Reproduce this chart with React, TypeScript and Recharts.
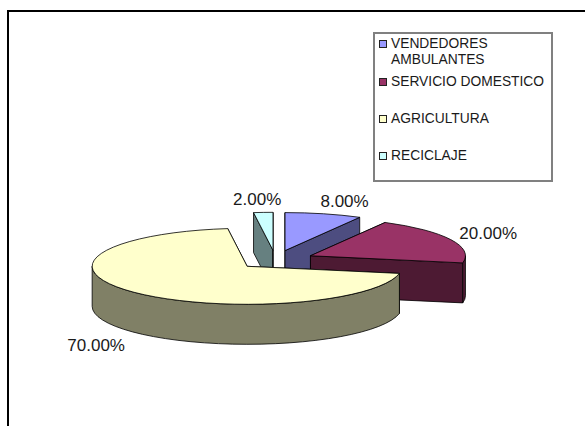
import React from "react";
import { PieChart, Pie, Legend } from "recharts";

const legendCategories = ["VENDEDORES AMBULANTES", "SERVICIO DOMESTICO", "AGRICULTURA", "RECICLAJE"];
const legendValues = [8, 20, 70, 2];
const topColors = ["#9999FF", "#993366", "#FFFFCC", "#CCFFFF"];
const sideColors = ["#4D4D80", "#4D1A33", "#808066", "#668080"];
// Draw order back to front: the recycling slice sits behind agriculture.
const drawOrder = [3, 0, 1, 2];

const labelOffsets: Record<string, [number, number]> = {
  "VENDEDORES AMBULANTES": [21, -12.5],
  "SERVICIO DOMESTICO": [37.5, -6.5],
  AGRICULTURA: [-38, 53.5],
  RECICLAJE: [-6, -12.5],
};

const pieData = drawOrder.map((i) => ({
  name: legendCategories[i],
  value: legendValues[i],
  top: topColors[i],
  side: sideColors[i],
}));

const W = 585;
const H = 426;
const CX = 275.4;
const CY = 259.8;
const RX = 155;
const SQUASH = 38 / 155;
const DEPTH = 40;
const EXPLODE = 0.25;
const RAD = Math.PI / 180;

const pt = (ax: number, ay: number, r: number, deg: number, dy = 0) => {
  const t = (90 - deg) * RAD;
  return { x: ax + r * Math.sin(t), y: ay - r * SQUASH * Math.cos(t) + dy };
};
const apex = (cx: number, cy: number, r: number, mid: number) => pt(cx, cy, r * EXPLODE, mid);
const f = (n: number) => n.toFixed(2);

function Slice3D(props: any) {
  const { cx, cy, outerRadius: r, startAngle, endAngle, midAngle, payload } = props;
  const top = payload?.top ?? props.top;
  const side = payload?.side ?? props.side;
  const c = apex(cx, cy, r, midAngle);
  const ry = r * SQUASH;
  const A = pt(c.x, c.y, r, startAngle);
  const B = pt(c.x, c.y, r, endAngle);
  const span = startAngle - endAngle;
  const large = span > 180 ? 1 : 0;
  const face = (p: { x: number; y: number }) =>
    `M${f(c.x)},${f(c.y)}L${f(p.x)},${f(p.y)}L${f(p.x)},${f(p.y + DEPTH)}L${f(c.x)},${f(c.y + DEPTH)}Z`;

  // Visible outer wall: the part of the arc on the lower half of the ellipse
  // (recharts angles 0 .. -180 going clockwise).
  const walls: string[] = [];
  const ranges: [number, number][] = [
    [0, -180],
    [-360, -540],
    [360, 180],
  ];
  ranges.forEach(([hi, lo]) => {
    const s = Math.min(startAngle, hi);
    const e = Math.max(endAngle, lo);
    if (s > e) {
      const p = pt(c.x, c.y, r, s);
      const q = pt(c.x, c.y, r, e);
      const big = s - e > 180 ? 1 : 0;
      walls.push(
        `M${f(p.x)},${f(p.y)}A${r},${f(ry)} 0 ${big} 1 ${f(q.x)},${f(q.y)}` +
          `L${f(q.x)},${f(q.y + DEPTH)}A${r},${f(ry)} 0 ${big} 0 ${f(p.x)},${f(p.y + DEPTH)}Z`
      );
    }
  });

  const stroke = { stroke: "#000", strokeWidth: 0.8, strokeLinejoin: "round" as const };
  return (
    <g>
      <path d={face(A)} fill={side} {...stroke} />
      <path d={face(B)} fill={side} {...stroke} />
      {walls.map((d) => (
        <path key={d} d={d} fill={side} {...stroke} />
      ))}
      <path
        d={`M${f(c.x)},${f(c.y)}L${f(A.x)},${f(A.y)}A${r},${f(ry)} 0 ${large} 1 ${f(B.x)},${f(B.y)}Z`}
        fill={top}
        {...stroke}
      />
    </g>
  );
}

function renderLabel(props: any) {
  const { cx, cy, outerRadius: r, midAngle, percent, name, payload } = props;
  const c = apex(cx, cy, r, midAngle);
  const p = pt(c.x, c.y, r, midAngle);
  const key = name ?? payload?.name;
  const o = labelOffsets[key] ?? [0, 0];
  return (
    <text
      x={p.x + o[0]}
      y={p.y + o[1]}
      textAnchor="middle"
      dominantBaseline="central"
      fontFamily="'Liberation Sans', Arial, sans-serif"
      fontSize={17}
      fill="#1a1a1a"
    >
      {(percent * 100).toFixed(2)}%
    </text>
  );
}

const legendFont: React.CSSProperties = {
  fontFamily: "'Liberation Sans', Arial, sans-serif",
  fontSize: 13.8,
  lineHeight: "16px",
  color: "#1a1a1a",
};
const legendRowTops = [1.5, 40, 77, 114];
const legendLines = [["VENDEDORES", "AMBULANTES"], ["SERVICIO DOMESTICO"], ["AGRICULTURA"], ["RECICLAJE"]];

function LegendBox() {
  return (
    <div
      style={{
        position: "relative",
        width: 180,
        height: 150,
        boxSizing: "border-box",
        border: "2px solid #808080",
        background: "#fff",
      }}
    >
      {legendCategories.map((name, i) => (
        <div key={name} style={{ position: "absolute", left: 4, top: legendRowTops[i], ...legendFont, whiteSpace: "nowrap" }}>
          <span
            style={{
              position: "absolute",
              left: 0,
              top: 4,
              width: 8,
              height: 8,
              boxSizing: "border-box",
              border: "1px solid #222",
              background: topColors[i],
            }}
          />
          <div style={{ marginLeft: 12 }}>
            {legendLines[i].map((l) => (
              <div key={l}>{l}</div>
            ))}
          </div>
        </div>
      ))}
    </div>
  );
}

export default function App() {
  return (
    <div style={{ position: "absolute", left: 0, top: 0, width: W, height: H, background: "#fff", overflow: "hidden" }}>
      <div style={{ position: "absolute", left: 7, top: 10, width: W - 7, height: 2, background: "#000" }} />
      <div style={{ position: "absolute", left: 7, top: 10, width: 2, height: H - 10, background: "#000" }} />
      <PieChart width={W} height={H} style={{ position: "absolute", left: 0, top: 0 }} margin={{ top: 0, right: 0, bottom: 0, left: 0 }}>
        <Pie
          data={pieData}
          dataKey="value"
          nameKey="name"
          cx={CX}
          cy={CY}
          innerRadius={0}
          outerRadius={RX}
          startAngle={97.2}
          endAngle={-262.8}
          paddingAngle={0}
          isAnimationActive={false}
          labelLine={false}
          label={renderLabel}
          shape={Slice3D}
        />
        <Legend
          content={<LegendBox />}
          layout="vertical"
          verticalAlign="top"
          align="right"
          wrapperStyle={{ position: "absolute", left: 373, top: 32, width: 180, height: 150 }}
        />
      </PieChart>
    </div>
  );
}
